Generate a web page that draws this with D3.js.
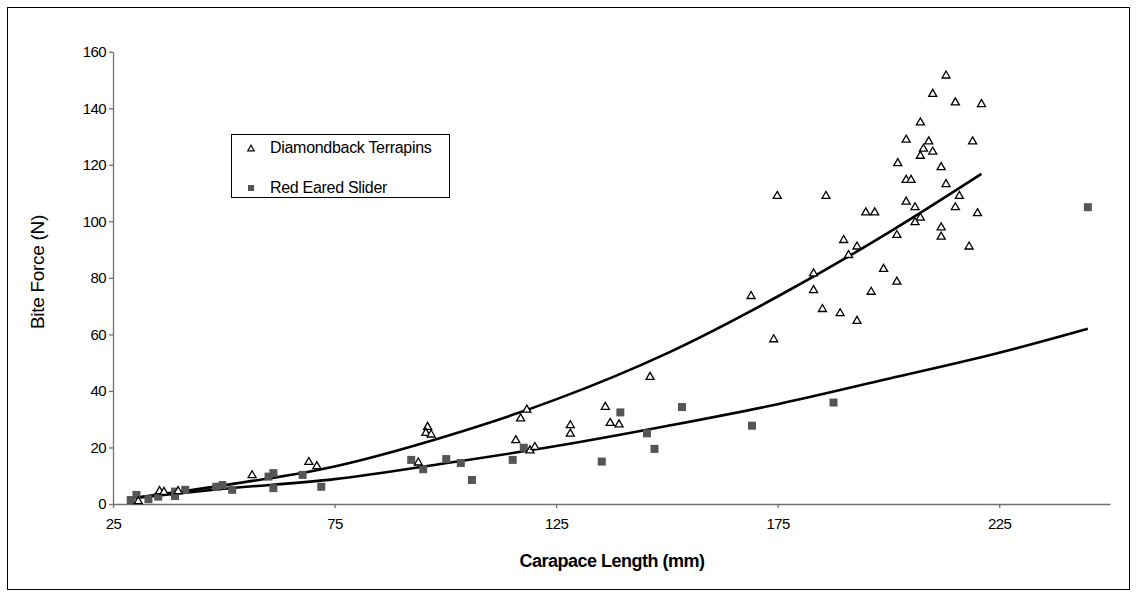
<!DOCTYPE html>
<html>
<head>
<meta charset="utf-8">
<script src="https://cdn.jsdelivr.net/npm/d3@7"></script>
<style>
  html, body { margin: 0; padding: 0; background: #fff; }
  svg { display: block; font-family: "Liberation Sans", Arial, sans-serif; }
</style>
</head>
<body>
<svg id="chart" width="1137" height="592"></svg>
<script>
// Diamondback terrapins: carapace length (mm) and bite force (N)
const terrapinLength = [30.7, 35.5, 36.5, 39.7, 56.4, 69.2, 71.0,
  93.9, 96.0, 95.6, 96.8, 115.9, 117.0, 118.4, 119.1, 120.2,
  128.2, 128.2, 136.1, 137.2, 139.2, 146.2, 169.0, 174.1,
  174.9, 185.9, 194.9, 196.9, 189.9, 192.9, 191.0, 201.9, 183.1, 183.1, 198.9, 201.9, 196.1, 185.1, 189.1, 192.9,
  213.0, 210.0, 215.1, 221.0, 207.2, 204.0, 209.1, 207.9, 210.0, 207.2, 219.0, 202.1, 211.9, 204.0, 205.1, 213.0,
  216.0, 204.0, 206.0, 215.1, 220.1, 207.2, 206.0, 211.9, 211.9, 218.2];
const terrapinForce = [1.1, 4.7, 4.4, 4.7, 10.3, 15.0, 13.5,
  14.8, 27.4, 25.3, 24.7, 22.7, 30.4, 33.5, 19.1, 20.3,
  28.0, 25.0, 34.5, 28.8, 28.3, 45.1, 73.7, 58.4,
  109.1, 109.1, 103.3, 103.3, 93.5, 91.2, 88.2, 95.3, 81.7, 75.8, 83.3, 78.8, 75.2, 69.1, 67.6, 64.9,
  151.7, 145.2, 142.2, 141.6, 135.1, 129.0, 128.4, 125.8, 124.8, 123.3, 128.4, 120.7, 119.3, 114.8, 114.8, 113.3,
  109.1, 107.1, 105.1, 105.1, 103.0, 101.4, 99.8, 98.0, 94.7, 91.2];

// Red eared sliders: carapace length (mm) and bite force (N)
const sliderLength = [29.0, 30.3, 33.0, 35.2, 39.0, 39.0, 41.3, 48.3, 49.7, 51.9, 60.1, 61.2, 61.2, 67.8, 72.0,
  92.3, 95.0, 100.2, 103.5, 106.0, 115.2, 117.7,
  135.3, 139.5, 145.5, 147.2, 153.4, 169.2, 187.6, 245.0];
const sliderForce = [1.4, 3.2, 1.7, 2.6, 4.4, 2.8, 5.0, 6.1, 6.7, 5.0, 9.7, 10.9, 5.6, 10.3, 6.1,
  15.6, 12.3, 15.9, 14.5, 8.5, 15.6, 19.9,
  15.0, 32.4, 25.0, 19.5, 34.3, 27.7, 35.9, 105.0];

// Trend curves
const terrapinTrendLength = [29, 50, 75, 100, 125, 150, 175, 200, 221];
const terrapinTrendForce  = [2.0, 6.6, 13.3, 23.9, 37.0, 53.3, 73.4, 96.0, 116.8];
const sliderTrendLength = [29, 50, 75, 100, 125, 150, 175, 200, 225, 245];
const sliderTrendForce  = [2.0, 5.4, 8.8, 14.4, 20.5, 27.6, 35.3, 44.3, 53.5, 62.0];

// Axis ticks
const xTicks = [25, 75, 125, 175, 225];
const yTicks = [0, 20, 40, 60, 80, 100, 120, 140, 160];

const seriesNames = ["Diamondback Terrapins", "Red Eared Slider"];

const svg = d3.select("#chart");
const axisColor = "#707070";
const squareColor = "#555555";

// outer frame
svg.append("rect")
  .attr("x", 7.5).attr("y", 7.5)
  .attr("width", 1122).attr("height", 582)
  .attr("fill", "none").attr("stroke", "#000").attr("stroke-width", 1);

const x = d3.scaleLinear().domain([25, 250]).range([113, 1110]);
const y = d3.scaleLinear().domain([0, 160]).range([504, 51.7]);

// axes
const xAxis = svg.append("g")
  .attr("transform", `translate(0,${y(0)})`)
  .call(d3.axisBottom(x).tickValues(xTicks).tickSize(4).tickSizeOuter(0).tickPadding(10));
const yAxis = svg.append("g")
  .attr("transform", `translate(${x(25)},0)`)
  .call(d3.axisLeft(y).tickValues(yTicks).tickSize(4).tickSizeOuter(0).tickPadding(3));

[xAxis, yAxis].forEach(g => {
  g.select(".domain").attr("stroke", axisColor).attr("stroke-width", 1.3);
  g.selectAll(".tick line").attr("stroke", axisColor).attr("stroke-width", 1.3);
  g.selectAll(".tick text")
    .attr("fill", "#000")
    .style("font-size", "15px")
    .style("font-family", "'Liberation Sans', Arial, sans-serif")
    .attr("letter-spacing", "-0.6px");
});

// axis titles
svg.append("text")
  .attr("x", 612).attr("y", 567)
  .attr("text-anchor", "middle")
  .style("font-size", "18px").style("font-weight", "bold")
  .attr("letter-spacing", "-0.5px")
  .text("Carapace Length (mm)");

svg.append("text")
  .attr("transform", "translate(44,272) rotate(-90)")
  .attr("text-anchor", "middle")
  .style("font-size", "19px")
  .attr("letter-spacing", "-0.3px")
  .text("Bite Force (N)");

// trend curves
const line = d3.line().x(d => x(d[0])).y(d => y(d[1])).curve(d3.curveMonotoneX);
const terrapinTrend = terrapinTrendLength.map((v, i) => [v, terrapinTrendForce[i]]);
const sliderTrend = sliderTrendLength.map((v, i) => [v, sliderTrendForce[i]]);

[terrapinTrend, sliderTrend].forEach(pts => {
  svg.append("path")
    .datum(pts)
    .attr("d", line)
    .attr("fill", "none")
    .attr("stroke", "#000")
    .attr("stroke-width", 2.6)
    .attr("stroke-linejoin", "round");
});

// slider squares
const sliders = sliderLength.map((v, i) => [v, sliderForce[i]]);
svg.append("g").selectAll("rect")
  .data(sliders)
  .join("rect")
  .attr("x", d => x(d[0]) - 4)
  .attr("y", d => y(d[1]) - 4)
  .attr("width", 8).attr("height", 8)
  .attr("fill", squareColor);

// terrapin triangles
const tri = d3.symbol().type(d3.symbolTriangle).size(28);
const terrapins = terrapinLength.map((v, i) => [v, terrapinForce[i]]);
svg.append("g").selectAll("path")
  .data(terrapins)
  .join("path")
  .attr("d", tri)
  .attr("transform", d => `translate(${x(d[0])},${y(d[1]) + 0.5})`)
  .attr("fill", "#fff")
  .attr("stroke", "#000")
  .attr("stroke-width", 1.3);

// legend
const legend = svg.append("g");
legend.append("rect")
  .attr("x", 231.5).attr("y", 134.5)
  .attr("width", 218).attr("height", 63)
  .attr("fill", "#fff").attr("stroke", "#000").attr("stroke-width", 1);

legend.append("path")
  .attr("d", d3.symbol().type(d3.symbolTriangle).size(18))
  .attr("transform", "translate(251,149)")
  .attr("fill", "#fff").attr("stroke", "#000").attr("stroke-width", 1.2);
legend.append("rect")
  .attr("x", 248).attr("y", 185).attr("width", 6).attr("height", 6)
  .attr("fill", squareColor);

legend.selectAll("text")
  .data(seriesNames)
  .join("text")
  .attr("x", 270)
  .attr("y", (d, i) => 153 + i * 40)
  .style("font-size", "16px")
  .attr("letter-spacing", "-0.3px")
  .text(d => d);
</script>
</body>
</html>
